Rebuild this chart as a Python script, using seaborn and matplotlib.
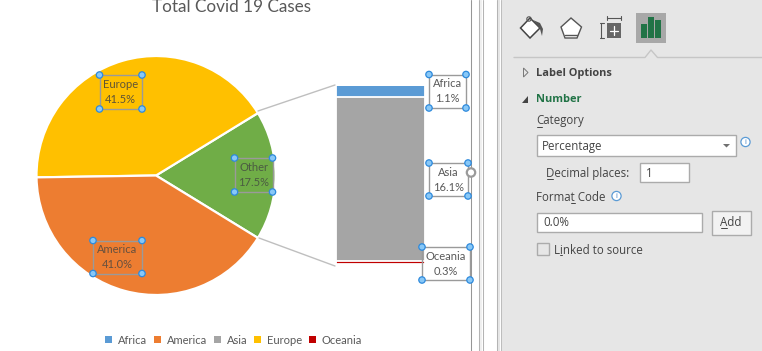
import numpy as np
import matplotlib
matplotlib.use("Agg")
import matplotlib.pyplot as plt
from matplotlib.patches import Rectangle, Polygon, Circle
from matplotlib.lines import Line2D
import seaborn as sns

sns.set_theme(style="white")
plt.rcParams['font.family'] = ['Lato', 'DejaVu Sans']

# Data
title = "Total Covid 19 Cases"
pie_labels = ["Other", "Europe", "America"]
pie_values = [17.5, 41.5, 41.0]
pie_colors = ["#70AD47", "#FFC000", "#ED7D31"]
stack_labels = ["Africa", "Asia", "Oceania"]
stack_values = [1.1, 16.1, 0.3]
stack_colors = ["#5B9BD5", "#A5A5A5", "#C00000"]
legend_labels = ["Africa", "America", "Asia", "Europe", "Oceania"]
legend_colors = ["#5B9BD5", "#ED7D31", "#A5A5A5", "#FFC000", "#C00000"]

W, H = 762, 351
fig = plt.figure(figsize=(W/100, H/100), dpi=100, facecolor="white")

def rect(x0, y0, x1, y1):
    return [x0/W, 1-y1/H, (x1-x0)/W, (y1-y0)/H]

# Overlay in pixel coordinates for the screenshot chrome
bg = fig.add_axes([0, 0, 1, 1], zorder=0)
bg.set_xlim(0, W); bg.set_ylim(H, 0); bg.axis("off")
ov = fig.add_axes([0, 0, 1, 1], zorder=5)
ov.set_xlim(0, W); ov.set_ylim(H, 0); ov.axis("off"); ov.patch.set_alpha(0)

# Pie
pie_ax = fig.add_axes(rect(36.5, 56, 275.5, 295), zorder=2)
pie_ax.pie(pie_values, colors=pie_colors, startangle=-pie_values[0]/100*180,
           counterclock=True, radius=1,
           wedgeprops=dict(edgecolor="white", linewidth=1.6))
pie_ax.set_xlim(-1, 1); pie_ax.set_ylim(-1, 1)
for w in pie_ax.patches:
    w.set_clip_on(False)

# Stacked bar
bar_ax = fig.add_axes(rect(336, 85.5, 425, 264), zorder=2)
cum = np.cumsum(stack_values[::-1])[::-1]
for c, col in zip(cum, stack_colors):
    sns.barplot(x=["stack"], y=[c], color=col, width=1, saturation=1,
                edgecolor="white", linewidth=1.3, ax=bar_ax)
bar_ax.set_xlim(-0.5, 0.5); bar_ax.set_ylim(0, sum(stack_values)); bar_ax.axis("off")

# Connector lines
ov.add_line(Line2D([258, 335], [111, 85], color="#BFBFBF", lw=1))
ov.add_line(Line2D([259, 335], [238, 266], color="#BFBFBF", lw=1))

# Title
ov.text(231, 7, title, fontsize=12.3, color="#595959", ha="center", va="center")

# Data labels with selection boxes
def label(x0, y0, x1, y1, name, val, tc="#595959", fs=8):
    ov.add_patch(Rectangle((x0, y0), x1-x0, y1-y0, fill=False, ec="#9A9A9A", lw=1))
    ov.text((x0+x1)/2, y0+9.3, name, fontsize=fs, color=tc, ha="center", va="center")
    ov.text((x0+x1)/2, y0+24.3, f"{val:.1f}%", fontsize=fs, color=tc, ha="center", va="center")
    for px, py in [(x0, y0), (x1, y0), (x0, y1), (x1, y1)]:
        ov.add_patch(Circle((px, py), 3.2, fc="#88C8F7", ec="#2D89DC", lw=0.9, zorder=6))

label(99.5, 75, 142, 109, pie_labels[1], pie_values[1], "#5F5436")
label(234.5, 158, 272.5, 192, pie_labels[0], pie_values[0], "#4B5B42")
label(93, 240.5, 142, 273.5, pie_labels[2], pie_values[2], "#65503F")
label(429, 74.5, 466, 108, stack_labels[0], stack_values[0])
label(429, 163, 468, 196, stack_labels[1], stack_values[1])
label(422, 247, 470, 280, stack_labels[2], stack_values[2])

# Rotation handle
ov.add_patch(Circle((471, 172.5), 4.2, fc="white", ec="#9A9A9A", lw=1.6, zorder=7))

# Legend
handles = [Rectangle((0, 0), 1, 1, fc=c, ec="none") for c in legend_colors]
leg = fig.legend(handles, legend_labels, ncol=5, loc="center", bbox_to_anchor=(233.5/W, 1-340/H),
                 frameon=False, fontsize=8, labelcolor="#595959", handlelength=0.62, handleheight=0.62,
                 handletextpad=0.55, columnspacing=0.6, borderpad=0, borderaxespad=0)

# Window chrome
bg.add_patch(Rectangle((479, 0), 3, H, fc="#F0F0F0", ec="none"))
bg.add_patch(Rectangle((497, 0), 3, H, fc="#E6E6E6", ec="none"))
bg.add_patch(Rectangle((501, 0), W-501, H, fc="#E6E6E6", ec="none"))
for x, c in [(470.5, "#969696"), (478.5, "#B4B4B4"), (482.5, "#B4B4B4"), (496.5, "#B4B4B4"), (500.5, "#BDBDBD")]:
    bg.add_line(Line2D([x, x], [0, H], color=c, lw=0.75, zorder=3))

UI = ['Open Sans', 'DejaVu Sans']
TXT = "#444444"
def ui(x, y, s, **k):
    k.setdefault("fontsize", 8.3); k.setdefault("color", TXT)
    return ov.text(x, y + 1.7, s, family=UI, va="center", ha=k.pop("ha", "left"), **k)
def ul(x0, x1, y):
    ov.add_line(Line2D([x0, x1], [y, y], color=TXT, lw=0.7))

# Tab separator
ov.add_line(Line2D([514, 645, 651, 657.5, 762], [57.5, 57.5, 50, 57.5, 57.5], color="#C6C6C6", lw=1))

# Selected tab and icons
ov.add_patch(Rectangle((636, 13), 30, 30, fc="#A8A8A8", ec="none"))
for x0, x1, top in [(641, 647, 24), (648, 654, 17), (655, 661, 20)]:
    ov.add_patch(Rectangle((x0, top), x1-x0, 38-top, fc="#217346", ec="none"))
# size icon
ov.add_patch(Rectangle((607, 23), 14, 15, fc="#666666", ec="none"))
ov.add_line(Line2D([610, 618], [30.5, 30.5], color="white", lw=0.9))
ov.add_line(Line2D([614, 614], [26, 35], color="white", lw=0.9))
for seg in [([601, 601], [23, 38]), ([600, 604], [23, 23]), ([600, 604], [38, 38]),
            ([607, 621], [18, 18]), ([607, 607], [16, 20]), ([621, 621], [16, 20])]:
    ov.add_line(Line2D(*seg, color="#555555", lw=0.8))
# pentagon icon
ov.add_patch(Polygon([(571, 18), (581.5, 27), (577, 38), (565, 38), (561, 27)], closed=True,
                     fc="white", ec="#555555", lw=1))
ov.add_line(Line2D([565, 577], [34.5, 34.5], color="#555555", lw=1))
# bucket icon
ov.add_patch(Polygon([(520.5, 28), (530, 18), (540, 28), (530, 38)], closed=True, fc="white", ec="#444444", lw=1.1))
ov.add_patch(Polygon([(533, 20), (540, 23), (543, 29), (542, 36), (540, 29), (537, 25)], closed=True, fc="#555555", ec="none"))
ov.add_patch(Circle((529, 19), 2.2, fc="none", ec="#555555", lw=0.8))

# Panel texts
ov.add_patch(Polygon([(523.5, 68), (528, 72.5), (523.5, 77)], closed=True, fc="#E6E6E6", ec="#777777", lw=0.7))
ui(536, 72, "Label Options", fontweight="bold", fontsize=7.9, color="#444444")
ov.add_patch(Polygon([(522, 103), (527.5, 103), (527.5, 95.5)], closed=True, fc="#444444", ec="none"))
ui(536, 98, "Number", fontweight="bold", fontsize=7.9, color="#217346")
ui(536, 119, "Category"); ul(536.5, 541.5, 126.5)

# Combo box
ov.add_patch(Rectangle((536.5, 134.5), 199, 21, fc="white", ec="#ABABAB", lw=1))
ui(542, 144.5, "Percentage")
ov.add_patch(Polygon([(723, 144), (730, 144), (726.5, 147.5)], closed=True, fc="#707070", ec="none"))
def info(x, y):
    ov.add_patch(Circle((x, y), 4.6, fc="white", ec="#5B9BD5", lw=0.9))
    ov.text(x, y, "i", fontsize=5.5, color="#3B7FC4", ha="center", va="center", family=UI)
info(745.5, 142)
ui(546, 171.5, "Decimal places:"); ul(546.5, 553, 178.5)
ov.add_patch(Rectangle((639.5, 162.5), 49, 19, fc="white", ec="#ABABAB", lw=1))
ui(646, 171.5, "1")
ui(536, 195.5, "Format Code"); ul(571, 574.5, 202.5)
info(616.5, 196)
ov.add_patch(Rectangle((536.5, 212.5), 165, 19, fc="white", ec="#ABABAB", lw=1))
ui(543, 221, "0.0%", color="#444444")
ov.add_patch(Rectangle((711.5, 210.5), 39, 24, fc="#F2F2F2", ec="#ABABAB", lw=1))
ui(731, 221, "Add", ha="center"); ul(720.5, 727, 228)
ov.add_patch(Rectangle((536.5, 242.5), 12, 12, fc="#E6E6E6", ec="#ABABAB", lw=1))
ui(554, 249, "Linked to source"); ul(559.5, 562, 255)

fig.savefig("out.png", dpi=100, facecolor="white")
